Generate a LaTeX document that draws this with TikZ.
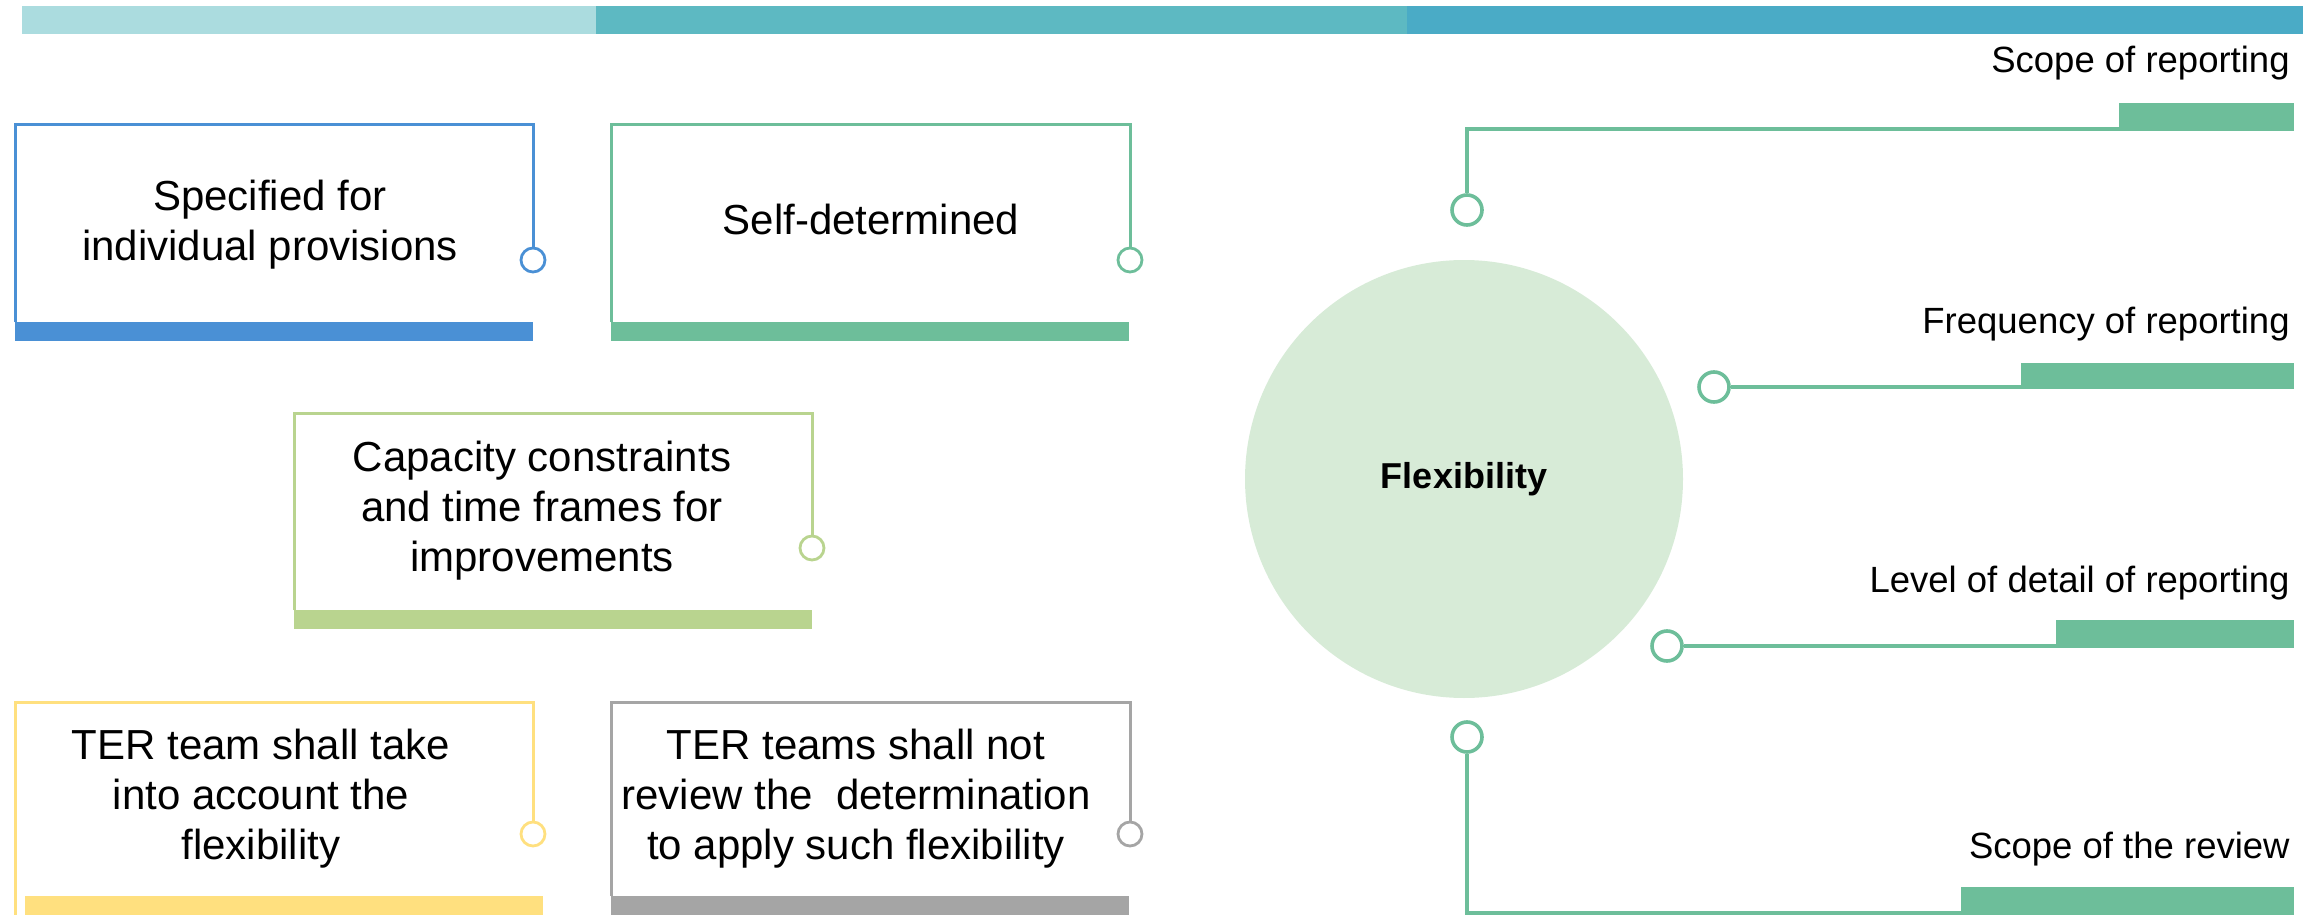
\documentclass[tikz,border=0pt]{standalone}
\usepackage{fontspec}
\setmainfont{Liberation Sans}
\usetikzlibrary{positioning}
\definecolor{stripA}{HTML}{ABDCDF}
\definecolor{stripB}{HTML}{5DB9C2}
\definecolor{stripC}{HTML}{4AABC6}
\definecolor{blueC}{HTML}{4A90D5}
\definecolor{greenC}{HTML}{6DBE9A}
\definecolor{limeC}{HTML}{B9D48F}
\definecolor{yellowC}{HTML}{FFE07F}
\definecolor{greyC}{HTML}{A5A5A5}
\definecolor{flexfill}{HTML}{D7EBD7}

\begin{document}
\begin{tikzpicture}[x=0.5pt,y=-0.5pt]
  \tikzset{
    boxtext/.style={align=center,inner sep=0pt,font=\fontsize{21}{25}\selectfont},
    sidelabel/.style={anchor=base east,inner sep=0pt,font=\fontsize{18.25}{22}\selectfont},
    ring/.style={circle,draw=#1,line width=1.4pt,fill=white,inner sep=0pt,minimum size=12pt},
    bigring/.style={circle,draw=#1,line width=1.8pt,fill=white,inner sep=0pt,minimum size=15pt},
    frame/.style={draw=#1,line width=1.5pt},
    link/.style={draw=#1,line width=2pt},
    footbar/.style={fill=#1,inner sep=0pt,outer sep=0pt,minimum height=9.5pt,minimum width=259pt,anchor=north west},
    sidebar/.style={fill=greenC,inner sep=0pt,outer sep=0pt,minimum height=14pt,anchor=south east},
  }
  \useasboundingbox (0,0) rectangle (2303,915);

  % top strip
  \fill[stripA] (22,6) rectangle (596,34);
  \fill[stripB] (596,6) rectangle (1407,34);
  \fill[stripC] (1407,6) rectangle (2303,34);

  % left boxes
  \node[footbar=blueC] (bar1) at (15,322) {};
  \node[ring=blueC] (ring1) at (533,260) {};
  \coordinate (top1) at (533,125);
  \draw[frame=blueC] (bar1.north west) |- (top1) -- (ring1.north);
  \node[boxtext] (txt1) at (270,225) {Specified for\\individual provisions};

  \node[footbar=greenC] (bar2) at (611,322) {};
  \node[ring=greenC] (ring2) at (1130,260) {};
  \coordinate (top2) at (1130,125);
  \draw[frame=greenC] (bar2.north west) |- (top2) -- (ring2.north);
  \node[boxtext] (txt2) at (871,219) {Self-determined};

  \node[footbar=limeC] (bar3) at (294,610) {};
  \node[ring=limeC] (ring3) at (812,548) {};
  \coordinate (top3) at (812,413);
  \draw[frame=limeC] (bar3.north west) |- (top3) -- (ring3.north);
  \node[boxtext] (txt3) at (542,511) {Capacity constraints\\and time frames for\\improvements};

  \node[footbar=yellowC] (bar4) at (25,896) {};
  \node[ring=yellowC] (ring4) at (533,834) {};
  \coordinate (top4) at (533,702);
  \coordinate (foot4) at (15,915);
  \draw[frame=yellowC] (foot4) |- (top4) -- (ring4.north);
  \node[boxtext] (txt4) at (261,799) {TER team shall take\\into account the\\flexibility};

  \node[footbar=greyC] (bar5) at (611,896) {};
  \node[ring=greyC] (ring5) at (1130,834) {};
  \coordinate (top5) at (1130,702);
  \draw[frame=greyC] (bar5.north west) |- (top5) -- (ring5.north);
  \node[boxtext] (txt5) at (856,799) {TER teams shall not\\review the\ \ determination\\to apply such flexibility};

  % centre and right branches
  \node[circle,fill=flexfill,minimum size=219pt,inner sep=0pt,
        font=\bfseries\fontsize{18}{22}\selectfont] (flex) at (1464,479) {Flexibility};

  \node[sidebar,minimum width=87.5pt] (side1) at (2294,131) {};
  \node[bigring=greenC] (knob1) at (1467,210) {};
  \draw[link=greenC] (knob1.north) |- ([yshift=1pt]side1.south west);
  \node[sidelabel] (lab1) at (2290,73) {Scope of reporting};

  \node[sidebar,minimum width=136.5pt,minimum height=13pt] (side2) at (2294,389) {};
  \node[bigring=greenC] (knob2) at (1714,387) {};
  \draw[link=greenC] (knob2.east) -- (knob2.east -| side2.west);
  \node[sidelabel] (lab2) at (2290,333) {Frequency of reporting};

  \node[sidebar,minimum width=119pt] (side3) at (2294,648) {};
  \node[bigring=greenC] (knob3) at (1667,646) {};
  \draw[link=greenC] (knob3.east) -- (knob3.east -| side3.west);
  \node[sidelabel] (lab3) at (2290,592) {Level of detail of reporting};

  \node[sidebar,minimum width=166.5pt] (side4) at (2294,915) {};
  \node[bigring=greenC] (knob4) at (1467,737) {};
  \draw[link=greenC] (knob4.south) |- ([yshift=1pt]side4.south west);
  \node[sidelabel] (lab4) at (2290,858) {Scope of the review};
\end{tikzpicture}
\end{document}
